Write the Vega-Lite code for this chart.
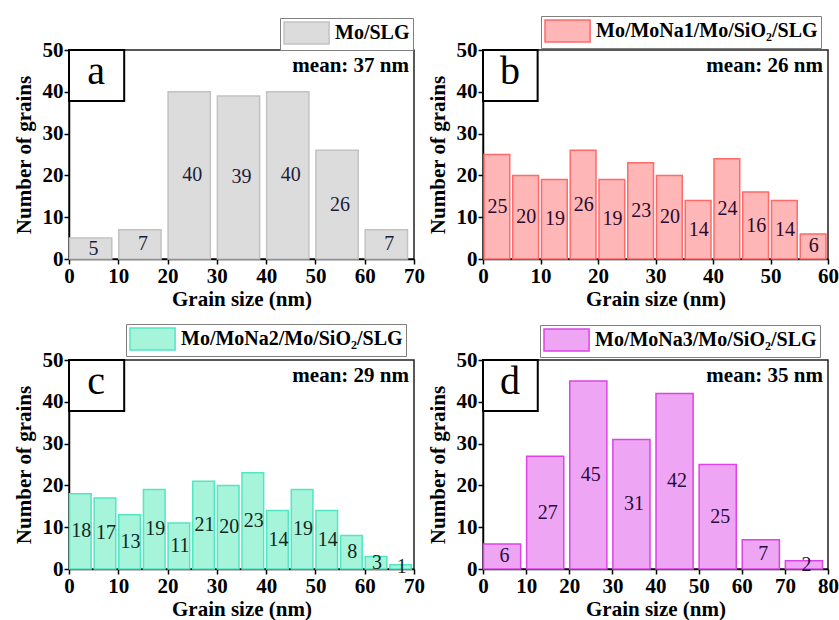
{
  "$schema": "https://vega.github.io/schema/vega-lite/v6.json",
  "background": "white",
  "padding": {"left": 12, "top": 14, "right": 3, "bottom": 3},
  "columns": 2,
  "spacing": {"row": 101, "column": 69},
  "bounds": "flush",
  "resolve": {"scale": {"color": "independent", "x": "independent", "y": "independent"}, "legend": {"color": "independent"}},
  "config": {
    "font": "Liberation Serif",
    "view": {"stroke": "#222222", "strokeWidth": 1.5},
    "axis": {"labelFont": "Liberation Serif", "labelFontSize": 21, "labelFontWeight": "bold", "labelColor": "black", "titleFont": "Liberation Serif", "titleFontSize": 21, "titleFontWeight": "bold", "titleColor": "black", "domainColor": "black", "domainWidth": 1.5, "tickColor": "black", "tickWidth": 1.5, "tickSize": 5, "grid": false, "labelPadding": 1},
    "axisX": {"titlePadding": 2, "labelFlush": false},
    "axisY": {"titlePadding": 8},
    "legend": {"title": null, "strokeColor": "#808080", "fillColor": "white", "padding": 3, "symbolType": "M-1,-1H3.1V1H-1Z", "symbolSize": 484, "symbolStrokeWidth": 1.5, "labelFont": "Liberation Serif", "labelFontWeight": "bold", "labelFontSize": 20, "labelColor": "black", "labelOffset": 28, "labelLimit": 400, "cornerRadius": 0}
  },
  "concat": [
    {
      "width": 345, "height": 209,
      "data": {"values": [{"start": 0, "end": 10, "count": 5}, {"start": 10, "end": 20, "count": 7}, {"start": 20, "end": 30, "count": 40}, {"start": 30, "end": 40, "count": 39}, {"start": 40, "end": 50, "count": 40}, {"start": 50, "end": 60, "count": 26}, {"start": 60, "end": 70, "count": 7}]},
      "resolve": {"scale": {"x": "independent", "y": "independent"}},
      "layer": [
        {
          "mark": {"type": "bar", "binSpacing": 7, "xOffset": -3.5, "stroke": "#c2c2c2", "strokeWidth": 1.5},
          "encoding": {
            "x": {"field": "start", "type": "quantitative", "bin": "binned", "scale": {"domain": [0, 70], "nice": false}, "axis": {"values": [0, 10, 20, 30, 40, 50, 60, 70], "title": "Grain size (nm)"}},
            "x2": {"field": "end"},
            "y": {"field": "count", "type": "quantitative", "scale": {"domain": [0, 50], "nice": false}, "axis": {"values": [0, 10, 20, 30, 40, 50], "title": "Number of grains"}},
            "color": {"datum": "Mo/SLG", "type": "nominal", "scale": {"range": ["#dcdcdc"]}, "legend": {"orient": "none", "legendX": 211, "legendY": -32, "symbolStrokeColor": "#c2c2c2"}}
          }
        },
        {
          "mark": {"type": "text", "font": "Liberation Serif", "fontSize": 20, "color": "#1c1c3a", "baseline": "middle", "dx": 24.6},
          "encoding": {
            "x": {"field": "start", "type": "quantitative", "scale": {"domain": [0, 70], "nice": false}, "axis": null},
            "y": {"field": "count", "type": "quantitative", "scale": {"domain": [0, 100], "nice": false}, "axis": null},
            "text": {"field": "count"}
          }
        },
        {
          "data": {"values": [{}]},
          "mark": {"type": "rect", "fill": "white", "stroke": "black", "strokeWidth": 2},
          "encoding": {
            "x": {"datum": 0, "type": "quantitative", "scale": {"domain": [0, 70], "nice": false}, "axis": null},
            "x2": {"datum": 11.2},
            "y": {"datum": 50, "type": "quantitative", "scale": {"domain": [0, 50], "nice": false}, "axis": null},
            "y2": {"datum": 37.8}
          }
        },
        {
          "data": {"values": [{}]},
          "mark": {"type": "text", "text": "a", "font": "Liberation Serif", "fontSize": 40, "align": "center", "baseline": "alphabetic", "dx": 27, "dy": 34, "color": "black"},
          "encoding": {
            "x": {"datum": 0, "type": "quantitative", "scale": {"domain": [0, 70], "nice": false}, "axis": null},
            "y": {"datum": 50, "type": "quantitative", "scale": {"domain": [0, 50], "nice": false}, "axis": null}
          }
        },
        {
          "data": {"values": [{}]},
          "mark": {"type": "text", "text": "mean: 37 nm", "font": "Liberation Serif", "fontWeight": "bold", "fontSize": 21, "align": "right", "baseline": "alphabetic", "dx": -5, "dy": 22, "color": "black"},
          "encoding": {
            "x": {"datum": 70, "type": "quantitative", "scale": {"domain": [0, 70], "nice": false}, "axis": null},
            "y": {"datum": 50, "type": "quantitative", "scale": {"domain": [0, 50], "nice": false}, "axis": null}
          }
        }
      ]
    },
    {
      "width": 345, "height": 209,
      "data": {"values": [{"start": 0, "end": 5, "count": 25}, {"start": 5, "end": 10, "count": 20}, {"start": 10, "end": 15, "count": 19}, {"start": 15, "end": 20, "count": 26}, {"start": 20, "end": 25, "count": 19}, {"start": 25, "end": 30, "count": 23}, {"start": 30, "end": 35, "count": 20}, {"start": 35, "end": 40, "count": 14}, {"start": 40, "end": 45, "count": 24}, {"start": 45, "end": 50, "count": 16}, {"start": 50, "end": 55, "count": 14}, {"start": 55, "end": 60, "count": 6}]},
      "resolve": {"scale": {"x": "independent", "y": "independent"}},
      "layer": [
        {
          "mark": {"type": "bar", "binSpacing": 3, "xOffset": -1, "stroke": "#ff6a6a", "strokeWidth": 1.5},
          "encoding": {
            "x": {"field": "start", "type": "quantitative", "bin": "binned", "scale": {"domain": [0, 60], "nice": false}, "axis": {"values": [0, 10, 20, 30, 40, 50, 60], "title": "Grain size (nm)"}},
            "x2": {"field": "end"},
            "y": {"field": "count", "type": "quantitative", "scale": {"domain": [0, 50], "nice": false}, "axis": {"values": [0, 10, 20, 30, 40, 50], "title": "Number of grains"}},
            "color": {"datum": "Mo/MoNa1/Mo/SiO₂/SLG", "type": "nominal", "scale": {"range": ["#ffb6b6"]}, "legend": {"orient": "none", "legendX": 58, "legendY": -34, "symbolStrokeColor": "#ff6a6a"}}
          }
        },
        {
          "mark": {"type": "text", "font": "Liberation Serif", "fontSize": 20, "color": "#2a0a2e", "baseline": "middle", "dx": 14.4},
          "encoding": {
            "x": {"field": "start", "type": "quantitative", "scale": {"domain": [0, 60], "nice": false}, "axis": null},
            "y": {"field": "count", "type": "quantitative", "scale": {"domain": [0, 100], "nice": false}, "axis": null},
            "text": {"field": "count"}
          }
        },
        {
          "data": {"values": [{}]},
          "mark": {"type": "rect", "fill": "white", "stroke": "black", "strokeWidth": 2},
          "encoding": {
            "x": {"datum": 0, "type": "quantitative", "scale": {"domain": [0, 60], "nice": false}, "axis": null},
            "x2": {"datum": 9.5},
            "y": {"datum": 50, "type": "quantitative", "scale": {"domain": [0, 50], "nice": false}, "axis": null},
            "y2": {"datum": 37.8}
          }
        },
        {
          "data": {"values": [{}]},
          "mark": {"type": "text", "text": "b", "font": "Liberation Serif", "fontSize": 40, "align": "center", "baseline": "alphabetic", "dx": 27, "dy": 34, "color": "black"},
          "encoding": {
            "x": {"datum": 0, "type": "quantitative", "scale": {"domain": [0, 60], "nice": false}, "axis": null},
            "y": {"datum": 50, "type": "quantitative", "scale": {"domain": [0, 50], "nice": false}, "axis": null}
          }
        },
        {
          "data": {"values": [{}]},
          "mark": {"type": "text", "text": "mean: 26 nm", "font": "Liberation Serif", "fontWeight": "bold", "fontSize": 21, "align": "right", "baseline": "alphabetic", "dx": -5, "dy": 22, "color": "black"},
          "encoding": {
            "x": {"datum": 60, "type": "quantitative", "scale": {"domain": [0, 60], "nice": false}, "axis": null},
            "y": {"datum": 50, "type": "quantitative", "scale": {"domain": [0, 50], "nice": false}, "axis": null}
          }
        }
      ]
    },
    {
      "width": 345, "height": 209,
      "data": {"values": [{"start": 0, "end": 5, "count": 18}, {"start": 5, "end": 10, "count": 17}, {"start": 10, "end": 15, "count": 13}, {"start": 15, "end": 20, "count": 19}, {"start": 20, "end": 25, "count": 11}, {"start": 25, "end": 30, "count": 21}, {"start": 30, "end": 35, "count": 20}, {"start": 35, "end": 40, "count": 23}, {"start": 40, "end": 45, "count": 14}, {"start": 45, "end": 50, "count": 19}, {"start": 50, "end": 55, "count": 14}, {"start": 55, "end": 60, "count": 8}, {"start": 60, "end": 65, "count": 3}, {"start": 65, "end": 70, "count": 1}]},
      "resolve": {"scale": {"x": "independent", "y": "independent"}},
      "layer": [
        {
          "mark": {"type": "bar", "binSpacing": 3, "xOffset": -1.5, "stroke": "#52e6c2", "strokeWidth": 1.5},
          "encoding": {
            "x": {"field": "start", "type": "quantitative", "bin": "binned", "scale": {"domain": [0, 70], "nice": false}, "axis": {"values": [0, 10, 20, 30, 40, 50, 60, 70], "title": "Grain size (nm)"}},
            "x2": {"field": "end"},
            "y": {"field": "count", "type": "quantitative", "scale": {"domain": [0, 50], "nice": false}, "axis": {"values": [0, 10, 20, 30, 40, 50], "title": "Number of grains"}},
            "color": {"datum": "Mo/MoNa2/Mo/SiO₂/SLG", "type": "nominal", "scale": {"range": ["#a6f4da"]}, "legend": {"orient": "none", "legendX": 57, "legendY": -36, "symbolStrokeColor": "#52e6c2"}}
          }
        },
        {
          "mark": {"type": "text", "font": "Liberation Serif", "fontSize": 20, "color": "#10281e", "baseline": "middle", "dx": 12.3},
          "encoding": {
            "x": {"field": "start", "type": "quantitative", "scale": {"domain": [0, 70], "nice": false}, "axis": null},
            "y": {"field": "count", "type": "quantitative", "scale": {"domain": [0, 100], "nice": false}, "axis": null},
            "text": {"field": "count"}
          }
        },
        {
          "data": {"values": [{}]},
          "mark": {"type": "rect", "fill": "white", "stroke": "black", "strokeWidth": 2},
          "encoding": {
            "x": {"datum": 0, "type": "quantitative", "scale": {"domain": [0, 70], "nice": false}, "axis": null},
            "x2": {"datum": 11.2},
            "y": {"datum": 50, "type": "quantitative", "scale": {"domain": [0, 50], "nice": false}, "axis": null},
            "y2": {"datum": 37.8}
          }
        },
        {
          "data": {"values": [{}]},
          "mark": {"type": "text", "text": "c", "font": "Liberation Serif", "fontSize": 40, "align": "center", "baseline": "alphabetic", "dx": 27, "dy": 34, "color": "black"},
          "encoding": {
            "x": {"datum": 0, "type": "quantitative", "scale": {"domain": [0, 70], "nice": false}, "axis": null},
            "y": {"datum": 50, "type": "quantitative", "scale": {"domain": [0, 50], "nice": false}, "axis": null}
          }
        },
        {
          "data": {"values": [{}]},
          "mark": {"type": "text", "text": "mean: 29 nm", "font": "Liberation Serif", "fontWeight": "bold", "fontSize": 21, "align": "right", "baseline": "alphabetic", "dx": -5, "dy": 22, "color": "black"},
          "encoding": {
            "x": {"datum": 70, "type": "quantitative", "scale": {"domain": [0, 70], "nice": false}, "axis": null},
            "y": {"datum": 50, "type": "quantitative", "scale": {"domain": [0, 50], "nice": false}, "axis": null}
          }
        }
      ]
    },
    {
      "width": 345, "height": 209,
      "data": {"values": [{"start": 0, "end": 10, "count": 6}, {"start": 10, "end": 20, "count": 27}, {"start": 20, "end": 30, "count": 45}, {"start": 30, "end": 40, "count": 31}, {"start": 40, "end": 50, "count": 42}, {"start": 50, "end": 60, "count": 25}, {"start": 60, "end": 70, "count": 7}, {"start": 70, "end": 80, "count": 2}]},
      "resolve": {"scale": {"x": "independent", "y": "independent"}},
      "layer": [
        {
          "mark": {"type": "bar", "binSpacing": 6, "xOffset": -3, "stroke": "#dd44e6", "strokeWidth": 1.5},
          "encoding": {
            "x": {"field": "start", "type": "quantitative", "bin": "binned", "scale": {"domain": [0, 80], "nice": false}, "axis": {"values": [0, 10, 20, 30, 40, 50, 60, 70, 80], "title": "Grain size (nm)"}},
            "x2": {"field": "end"},
            "y": {"field": "count", "type": "quantitative", "scale": {"domain": [0, 50], "nice": false}, "axis": {"values": [0, 10, 20, 30, 40, 50], "title": "Number of grains"}},
            "color": {"datum": "Mo/MoNa3/Mo/SiO₂/SLG", "type": "nominal", "scale": {"range": ["#eea6f4"]}, "legend": {"orient": "none", "legendX": 57, "legendY": -35, "symbolStrokeColor": "#dd44e6"}}
          }
        },
        {
          "mark": {"type": "text", "font": "Liberation Serif", "fontSize": 20, "color": "#2a0a3a", "baseline": "middle", "dx": 21.6},
          "encoding": {
            "x": {"field": "start", "type": "quantitative", "scale": {"domain": [0, 80], "nice": false}, "axis": null},
            "y": {"field": "count", "type": "quantitative", "scale": {"domain": [0, 100], "nice": false}, "axis": null},
            "text": {"field": "count"}
          }
        },
        {
          "data": {"values": [{}]},
          "mark": {"type": "rect", "fill": "white", "stroke": "black", "strokeWidth": 2},
          "encoding": {
            "x": {"datum": 0, "type": "quantitative", "scale": {"domain": [0, 80], "nice": false}, "axis": null},
            "x2": {"datum": 12.7},
            "y": {"datum": 50, "type": "quantitative", "scale": {"domain": [0, 50], "nice": false}, "axis": null},
            "y2": {"datum": 37.8}
          }
        },
        {
          "data": {"values": [{}]},
          "mark": {"type": "text", "text": "d", "font": "Liberation Serif", "fontSize": 40, "align": "center", "baseline": "alphabetic", "dx": 27, "dy": 34, "color": "black"},
          "encoding": {
            "x": {"datum": 0, "type": "quantitative", "scale": {"domain": [0, 80], "nice": false}, "axis": null},
            "y": {"datum": 50, "type": "quantitative", "scale": {"domain": [0, 50], "nice": false}, "axis": null}
          }
        },
        {
          "data": {"values": [{}]},
          "mark": {"type": "text", "text": "mean: 35 nm", "font": "Liberation Serif", "fontWeight": "bold", "fontSize": 21, "align": "right", "baseline": "alphabetic", "dx": -5, "dy": 22, "color": "black"},
          "encoding": {
            "x": {"datum": 80, "type": "quantitative", "scale": {"domain": [0, 80], "nice": false}, "axis": null},
            "y": {"datum": 50, "type": "quantitative", "scale": {"domain": [0, 50], "nice": false}, "axis": null}
          }
        }
      ]
    }
  ]
}
